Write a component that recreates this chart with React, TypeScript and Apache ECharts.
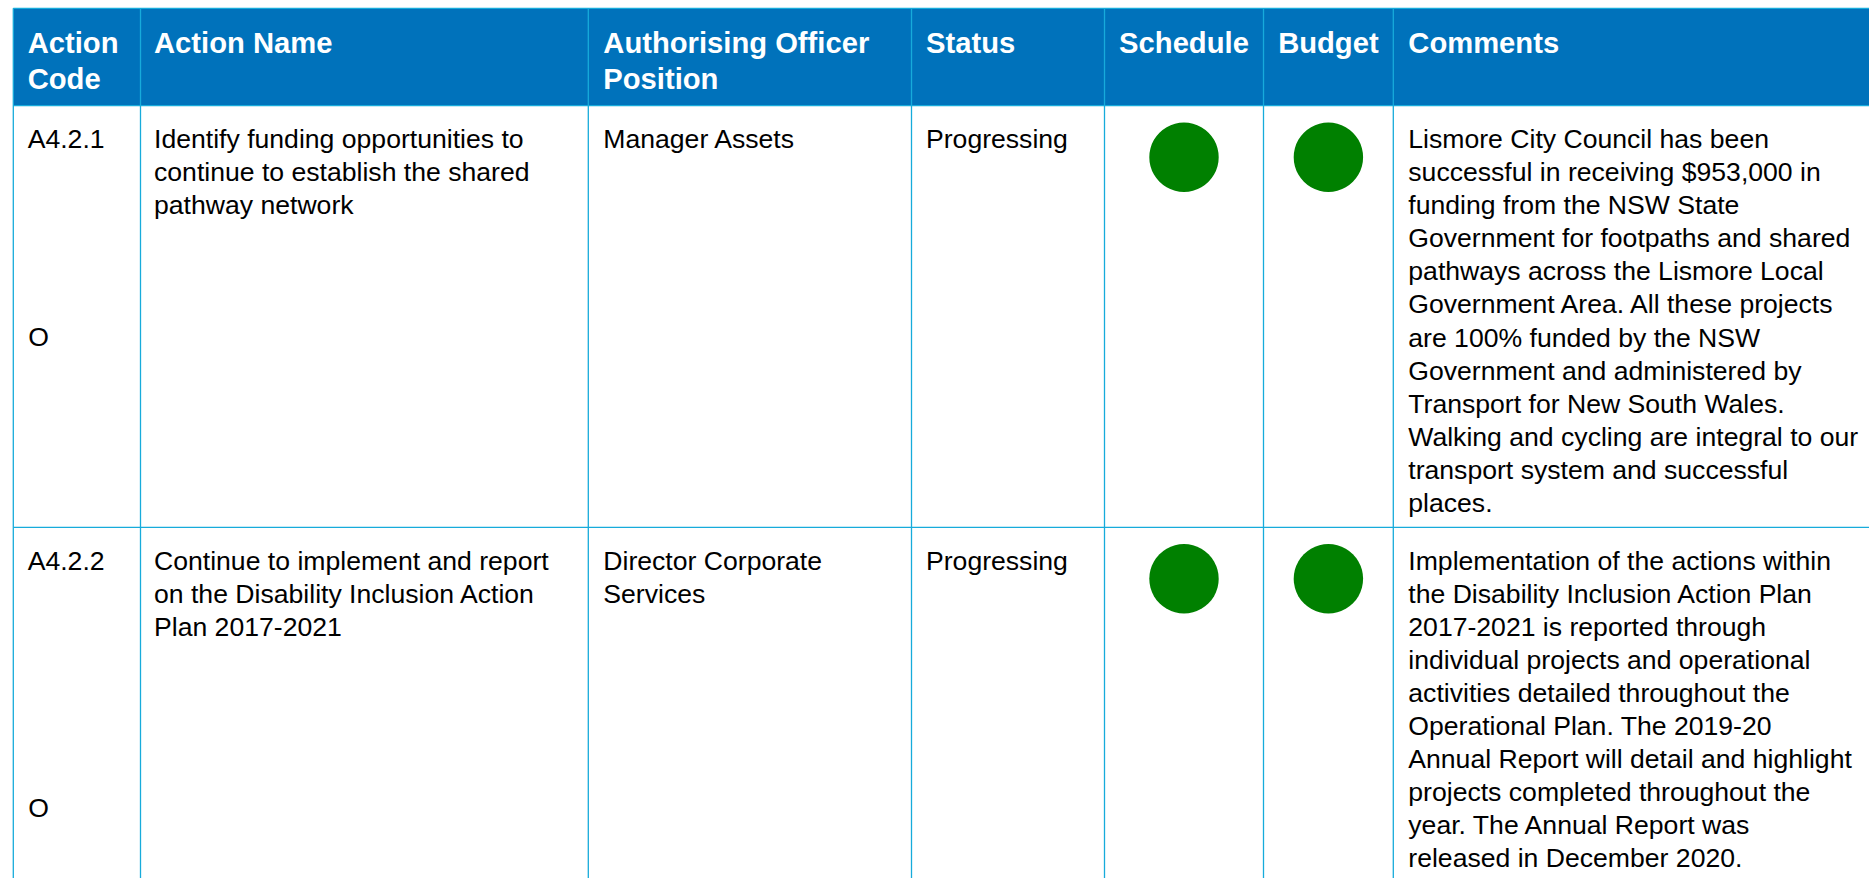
import React, { useEffect, useRef } from "react";
import * as echarts from "echarts";

// ---------- data ----------
const headerLabels: string[][] = [
  ["Action", "Code"],
  ["Action Name"],
  ["Authorising Officer", "Position"],
  ["Status"],
  ["Schedule"],
  ["Budget"],
  ["Comments"],
];

const actionCodes: string[] = ["A4.2.1", "A4.2.2"];

const actionNames: string[][] = [
  ["Identify funding opportunities to", "continue to establish the shared", "pathway network"],
  ["Continue to implement and report", "on the Disability Inclusion Action", "Plan 2017-2021"],
];

const officers: string[][] = [["Manager Assets"], ["Director Corporate", "Services"]];

const statuses: string[] = ["Progressing", "Progressing"];

const scheduleRag: string[] = ["green", "green"];
const budgetRag: string[] = ["green", "green"];

const outcomeMarks: string[] = ["O", "O"];

const comments: string[][] = [
  [
    "Lismore City Council has been",
    "successful in receiving $953,000 in",
    "funding from the NSW State",
    "Government for footpaths and shared",
    "pathways across the Lismore Local",
    "Government Area. All these projects",
    "are 100% funded by the NSW",
    "Government and administered by",
    "Transport for New South Wales.",
    "Walking and cycling are integral to our",
    "transport system and successful",
    "places.",
  ],
  [
    "Implementation of the actions within",
    "the Disability Inclusion Action Plan",
    "2017-2021 is reported through",
    "individual projects and operational",
    "activities detailed throughout the",
    "Operational Plan. The 2019-20",
    "Annual Report will detail and highlight",
    "projects completed throughout the",
    "year. The Annual Report was",
    "released in December 2020.",
  ],
];

// ---------- layout / style ----------
const W = 1869;
const H = 878;
const FONT = "'Liberation Sans', Arial, Helvetica, sans-serif";
const HEADER_BG = "#0072BB";
const GRID = "#17ABDB";
const RAG_COLORS: Record<string, string> = { green: "#008000", amber: "#FFC000", red: "#E00000" };

const colX = [13.3, 140.5, 588.3, 911.5, 1104.5, 1263.5, 1393.3, 1880];
const headerAlign = ["left", "left", "left", "left", "center", "center", "left"];
const padL = [14.4, 13.5, 15, 14.5, 0, 0, 15];
const tableTop = 8.3;
const headerBottom = 105.7;
const rowTops = [105.7, 527.3, 1000];
const headFs = 29.2;
const bodyFs = 26.6;
const headBaselines = [52.7, 88.8];
const firstBaselineOffset = 42.5;
const lineStep = 33.1;
const outcomeOffsets = [240.1, 289.5];
const ragOffset = 51.5;
const ragR = 34.7;

function midFromBaseline(b: number, fs: number) {
  return b - 0.3465 * fs;
}

function buildGraphics() {
  const els: any[] = [];
  els.push({ type: "rect", shape: { x: 0, y: 0, width: W, height: H }, style: { fill: "#ffffff" }, silent: true });
  els.push({
    type: "rect",
    shape: { x: colX[0], y: tableTop, width: W - colX[0] + 10, height: headerBottom - tableTop },
    style: { fill: HEADER_BG },
  });

  // header texts
  headerLabels.forEach((lines, c) => {
    lines.forEach((t, i) => {
      const center = headerAlign[c] === "center";
      els.push({
        type: "text",
        style: {
          text: t,
          x: center ? (colX[c] + colX[c + 1]) / 2 : colX[c] + padL[c],
          y: midFromBaseline(headBaselines[i], headFs),
          fill: "#ffffff",
          fontSize: headFs,
          fontWeight: "bold",
          fontFamily: FONT,
          align: center ? "center" : "left",
          verticalAlign: "middle",
        },
      });
    });
  });

  const bodyText = (t: string, x: number, baseline: number) => ({
    type: "text",
    style: {
      text: t,
      x,
      y: midFromBaseline(baseline, bodyFs),
      fill: "#000000",
      fontSize: bodyFs,
      fontFamily: FONT,
      align: "left",
      verticalAlign: "middle",
    },
  });

  actionCodes.forEach((code, r) => {
    const top = rowTops[r];
    const b0 = top + firstBaselineOffset;
    els.push(bodyText(code, colX[0] + padL[0], b0));
    els.push(bodyText(outcomeMarks[r], colX[0] + padL[0] + 0.6, top + outcomeOffsets[r]));
    actionNames[r].forEach((t, i) => els.push(bodyText(t, colX[1] + padL[1], b0 + i * lineStep)));
    officers[r].forEach((t, i) => els.push(bodyText(t, colX[2] + padL[2], b0 + i * lineStep)));
    els.push(bodyText(statuses[r], colX[3] + padL[3], b0));
    comments[r].forEach((t, i) => els.push(bodyText(t, colX[6] + padL[6], b0 + i * lineStep)));
    [scheduleRag[r], budgetRag[r]].forEach((rag, k) => {
      const c = 4 + k;
      els.push({
        type: "circle",
        shape: { cx: (colX[c] + colX[c + 1]) / 2, cy: top + ragOffset, r: ragR },
        style: { fill: RAG_COLORS[rag] },
      });
    });
  });

  // grid lines
  const lw = 1.3;
  [tableTop, headerBottom, rowTops[1]].forEach((y) => {
    els.push({ type: "line", shape: { x1: colX[0], y1: y, x2: W + 5, y2: y }, style: { stroke: GRID, lineWidth: lw } });
  });
  colX.slice(0, 7).forEach((x) => {
    els.push({ type: "line", shape: { x1: x, y1: tableTop, x2: x, y2: H + 5 }, style: { stroke: GRID, lineWidth: lw } });
  });
  return els;
}

export default function App() {
  const ref = useRef<HTMLDivElement>(null);
  useEffect(() => {
    if (!ref.current) return;
    const chart = echarts.init(ref.current, undefined, { renderer: "svg", width: W, height: H });
    chart.setOption({
      animation: false,
      backgroundColor: "#ffffff",
      graphic: { elements: buildGraphics() },
    });
    return () => chart.dispose();
  }, []);
  return (
    <div
      ref={ref}
      style={{ position: "fixed", left: 0, top: 0, width: W, height: H, background: "#fff" }}
    />
  );
}
